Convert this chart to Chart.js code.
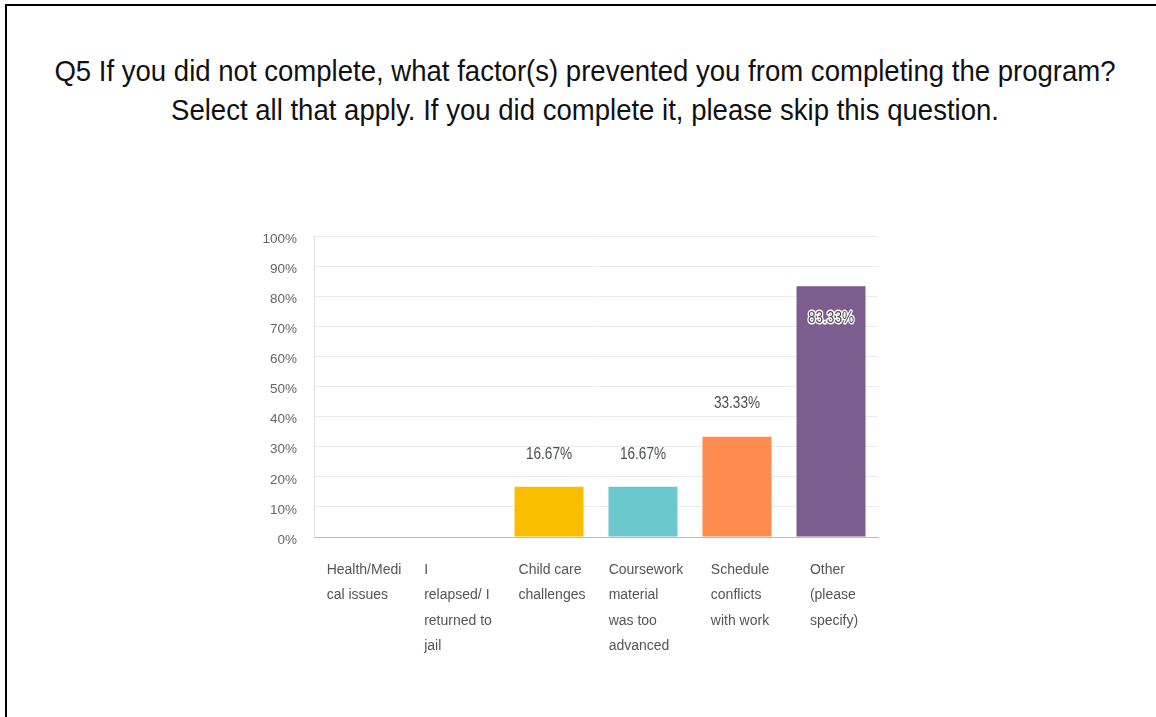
<!DOCTYPE html>
<html lang="en">
<head>
<meta charset="UTF-8">
<title>Q5 Factors</title>
<script src="https://cdn.jsdelivr.net/npm/chart.js"></script>
<style>
  body { margin: 0; background: #fff; width: 1156px; height: 717px; overflow: hidden; }
  #frame { position: absolute; left: 5px; top: 4px; right: 0; bottom: 0; border-left: 2px solid #000; border-top: 2px solid #000; }
  #title { position: absolute; left: 0; width: 1170px; top: 52px; text-align: center; white-space: nowrap;
           font: 29px/39px "Liberation Sans", Arial, sans-serif; color: #111;
           transform: scaleX(0.95); transform-origin: 585px 0; }
  #chart { position: absolute; left: 0; top: 0; }
</style>
</head>
<body>
<div id="frame"></div>
<div id="title">Q5 If you did not complete, what factor(s) prevented you from completing the program?<br>Select all that apply. If you did complete it, please skip this question.</div>
<canvas id="chart" width="1156" height="717"></canvas>
<script>
// answer choices, split the way they wrap under each bar
const categories = [
  ['Health/Medi', 'cal issues'],
  ['I', 'relapsed/ I', 'returned to', 'jail'],
  ['Child care', 'challenges'],
  ['Coursework', 'material', 'was too', 'advanced'],
  ['Schedule', 'conflicts', 'with work'],
  ['Other', '(please', 'specify)']
];
const percentages = [0, 0, 16.67, 16.67, 33.33, 83.33];
const barColors = ['#00BF6F', '#507CB6', '#F9BE00', '#6BC8CD', '#FF8B4F', '#7D5C8E'];

// multi-line category labels, left aligned inside a block centred under the bar
const categoryLabels = {
  id: 'categoryLabels',
  afterDraw(chart) {
    const ctx = chart.ctx;
    const xs = chart.scales.x;
    const lineH = 25.5;
    ctx.save();
    ctx.font = '14px "Liberation Sans", Arial, sans-serif';
    ctx.fillStyle = '#555';
    ctx.textAlign = 'left';
    ctx.textBaseline = 'middle';
    categories.forEach((lines, i) => {
      const w = Math.max(...lines.map(l => ctx.measureText(l).width));
      const left = xs.getPixelForTick(i) - w / 2 + 3;
      lines.forEach((line, j) => {
        ctx.fillText(line, left, xs.top + 20 + lineH * (j + 0.5));
      });
    });
    ctx.restore();
  }
};

// percentage labels above the bars (inside for the tall one), drawn condensed
const valueLabels = {
  id: 'valueLabels',
  afterDatasetsDraw(chart) {
    const ctx = chart.ctx;
    const meta = chart.getDatasetMeta(0);
    meta.data.forEach((bar, i) => {
      const v = percentages[i];
      if (!v) return;
      const text = v.toFixed(2) + '%';
      const inside = v > 70;
      ctx.save();
      ctx.translate(bar.x, inside ? bar.y + 32 : bar.y - 33);
      ctx.scale(0.8, 1);
      ctx.font = '17px "Liberation Sans", Arial, sans-serif';
      ctx.textAlign = 'center';
      ctx.textBaseline = 'middle';
      if (inside) {
        ctx.lineWidth = 3;
        ctx.lineJoin = 'round';
        ctx.strokeStyle = '#fff';
        ctx.strokeText(text, 0, 0);
      }
      ctx.fillStyle = '#4a4d52';
      ctx.fillText(text, 0, 0);
      ctx.restore();
    });
  }
};

new Chart(document.getElementById('chart'), {
  type: 'bar',
  data: {
    labels: categories,
    datasets: [{
      data: percentages,
      backgroundColor: barColors,
      categoryPercentage: 1,
      barPercentage: 0.734
    }]
  },
  options: {
    responsive: false,
    animation: false,
    layout: { padding: { left: 254, right: 278, top: 236, bottom: 0 } },
    plugins: {
      legend: { display: false },
      tooltip: { enabled: false }
    },
    scales: {
      x: {
        grid: { display: false },
        border: { color: '#bdbdbd', width: 1 },
        ticks: { display: false },
        afterFit(scale) { scale.height = 180; }
      },
      y: {
        min: 0,
        max: 100,
        ticks: {
          stepSize: 10,
          padding: 17,
          labelOffset: 3,
          color: '#656565',
          font: { family: '"Liberation Sans", Arial, sans-serif', size: 13.5 },
          callback: v => v + '%'
        },
        grid: { color: '#ebebeb', drawTicks: false },
        border: { color: '#e3e3e3', width: 1 },
        afterFit(scale) { scale.width = 60; }
      }
    }
  },
  plugins: [categoryLabels, valueLabels]
});
</script>
</body>
</html>
